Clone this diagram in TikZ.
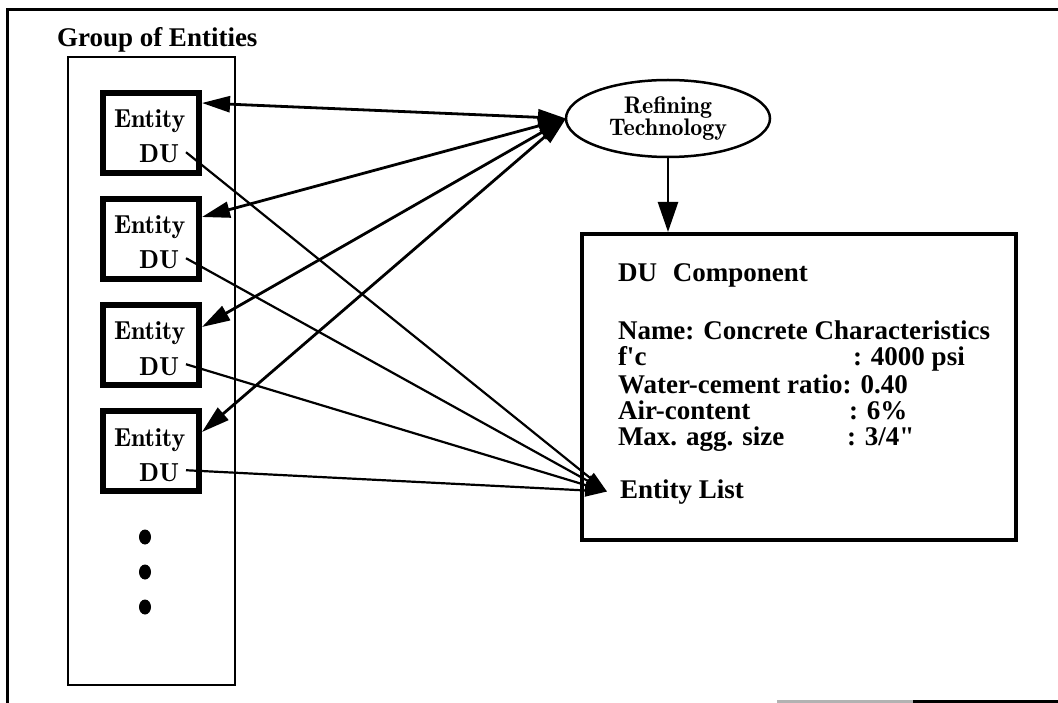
\documentclass[tikz,border=0pt]{standalone}
\usepackage{fontspec}
\newfontfamily\tnr{Liberation Serif}
\newfontfamily\lmdemi{lmromandemi10-regular.otf}
\usetikzlibrary{arrows.meta,shapes.geometric}
\begin{document}
\begin{tikzpicture}[x=1pt,y=-1pt,
  every node/.style={inner sep=0pt, outer sep=0pt},
  tlabel/.style={font=\tnr\bfseries\fontsize{27}{27}\selectfont, anchor=base west},
  entbox/.style={draw, line width=6pt, minimum width=96pt, minimum height=80pt, outer sep=3pt},
  enttxt/.style={font=\lmdemi\fontsize{26}{26}\selectfont, anchor=base west},
  dutxt/.style={font=\lmdemi\fontsize{26}{26}\selectfont, anchor=base east},
  biarrow/.style={line width=2.8pt, {Triangle[length=28pt,width=16pt]}-{Triangle[length=28pt,width=16pt]}},
  duline/.style={line width=2.2pt, -{Triangle[length=22pt,width=12pt]}},
  downarrow/.style={line width=2.5pt, -{Triangle[length=30pt,width=20pt]}},
]
\useasboundingbox (0,0) rectangle (1058,703);
\fill[white] (0,0) rectangle (1058,703);
% outer frame
\draw[line width=3pt] (7,703) -- (7,10) -- (1058,10);
\draw[line width=3pt, black!30] (777,701) -- (913,701);
\draw[line width=3pt] (913,701) -- (1058,701);
% group
\node[draw, line width=2pt, minimum width=167pt, minimum height=628pt] (grp) at (151.5,371) {};
\node[tlabel] (glab) at (57,47) {Group of Entities};
\foreach \i in {1,...,4} {
  \pgfmathsetmacro\ty{90+106*(\i-1)}
  \node[entbox] (e\i) at (151,\ty+43) {};
  \node[enttxt] (et\i) at (114,\ty+38) {Entity};
  \node[dutxt] (du\i) at (179,\ty+73) {DU};
}
\fill (145,537) ellipse[x radius=6pt, y radius=7.5pt];
\fill (145,572) ellipse[x radius=6pt, y radius=7.5pt];
\fill (145,607) ellipse[x radius=6pt, y radius=7.5pt];
% refining technology
\node[ellipse, draw, line width=2.5pt, minimum width=204pt, minimum height=77pt, align=center,
      font=\lmdemi\fontsize{24}{22}\selectfont] (ref) at (668,118.5) {Refining\\Technology};
% DU component box
\node[draw, line width=4pt, minimum width=434pt, minimum height=306pt, outer sep=2pt] (dub) at (799,387) {};
\node[tlabel] (t0) at (618,282) {DU\hspace{16pt}Component};
\node[tlabel] (t1) at (618,340) {Name: Concrete Characteristics};
\node[tlabel] (t2) at (618,366) {f{\char"27}c};
\node[tlabel] (v2) at (853,366) {: 4000 psi};
\node[tlabel] (t3) at (618,393) {Water-cement ratio: 0.40};
\node[tlabel] (t4) at (618,419) {Air-content};
\node[tlabel] (v4) at (849,419) {: 6\%};
\node[tlabel] (t5) at (618,445) {Max. agg. size};
\node[tlabel] (v5) at (847,445) {: 3/4{\char"22}};
\node[tlabel] (el) at (620,498) {Entity List};
% connectors
\draw[downarrow] (ref.south) -- (ref.south |- dub.north);
\draw[biarrow] ([yshift=-13pt]e1.north east) -- (ref.west);
\draw[biarrow] ([yshift=-21pt]e2.north east) -- (ref.west);
\draw[biarrow] ([yshift=-25pt]e3.north east) -- (ref.west);
\draw[biarrow] ([yshift=-24pt]e4.north east) -- (ref.west);
\foreach \i in {1,...,4} {
  \draw[duline] ([xshift=7pt,yshift=2pt]du\i.east) -- ([xshift=-13pt]el.west);
}
\end{tikzpicture}
\end{document}
